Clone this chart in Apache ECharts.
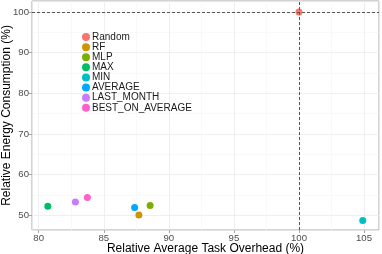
<!DOCTYPE html>
<html><head><meta charset="utf-8">
<script src="https://cdn.jsdelivr.net/npm/echarts@6/dist/echarts.min.js"></script>
<style>html,body{margin:0;padding:0;background:#fff}#c{width:382px;height:254px}</style>
</head><body><div id="c"></div>
<script>
const methods = ['Random','RF','MLP','MAX','MIN','AVERAGE','LAST_MONTH','BEST_ON_AVERAGE'];
const overhead = [100, 87.7, 88.56, 80.7, 104.9, 87.37, 82.82, 83.74];
const energy = [100, 50.1, 52.4, 52.2, 48.7, 51.9, 53.3, 54.4];
const colors = ['#F8766D','#CD9600','#7CAE00','#00BE67','#00BFC4','#00A9FF','#C77CFF','#FF61CC'];
const refX = 100, refY = 100;

const series = methods.map((m,i)=>({
  name: m, type:'scatter', symbolSize: 7,
  itemStyle:{color: colors[i], opacity:1},
  data: [[overhead[i], energy[i]]],
  z: 3
}));
series.push({
  type:'scatter', data:[], silent:true,
  markLine:{silent:true, symbol:'none', label:{show:false},
    lineStyle:{color:'#555', type:[3,2], width:1},
    data:[{xAxis:refX},{yAxis:refY}]},
  z:2
});

const chart = echarts.init(document.getElementById('c'));
chart.setOption({
  animation:false,
  grid:{left:32, top:1, right:3, bottom:24, containLabel:false, outerBoundsMode:'none', show:true, borderColor:'#A6A6A6', borderWidth:1},
  legend:{orient:'vertical', left:82, top:32, icon:'circle', itemWidth:8, itemHeight:8, itemGap:0, padding:0,
    textStyle:{fontFamily:'Liberation Sans', fontSize:10, lineHeight:10.1, color:'#1a1a1a', padding:[0,0,0,-3]},
    data: methods},
  xAxis:{type:'value', min:79.485, max:106.15, splitNumber:5,
    name:'Relative Average Task Overhead (%)', nameLocation:'middle', nameGap:13, nameMoveOverlap:false,
    nameTextStyle:{fontFamily:'Liberation Sans', fontSize:12, color:'#000'},
    axisLine:{show:false}, axisTick:{show:true, length:3, lineStyle:{color:'#A6A6A6'}},
    axisLabel:{showMinLabel:false, showMaxLabel:false, fontFamily:'Liberation Sans', fontSize:9.6, color:'#4D4D4D', margin:3},
    splitLine:{show:true, lineStyle:{color:'#EBEBEB', width:0.8}},
    minorSplitLine:{show:true, lineStyle:{color:'#F5F5F5', width:0.6}}, minorTick:{show:false, splitNumber:2}},
  yAxis:{type:'value', min:46.39, max:102.7, splitNumber:5,
    name:'Relative Energy Consumption (%)', nameLocation:'middle', nameGap:19, nameMoveOverlap:false,
    nameTextStyle:{fontFamily:'Liberation Sans', fontSize:12, color:'#000'},
    axisLine:{show:false}, axisTick:{show:true, length:3, lineStyle:{color:'#A6A6A6'}},
    axisLabel:{showMinLabel:false, showMaxLabel:false, fontFamily:'Liberation Sans', fontSize:9.6, color:'#4D4D4D', margin:3},
    splitLine:{show:true, lineStyle:{color:'#EBEBEB', width:0.8}},
    minorSplitLine:{show:true, lineStyle:{color:'#F5F5F5', width:0.6}}, minorTick:{show:false, splitNumber:2}},
  series
});
</script></body></html>
